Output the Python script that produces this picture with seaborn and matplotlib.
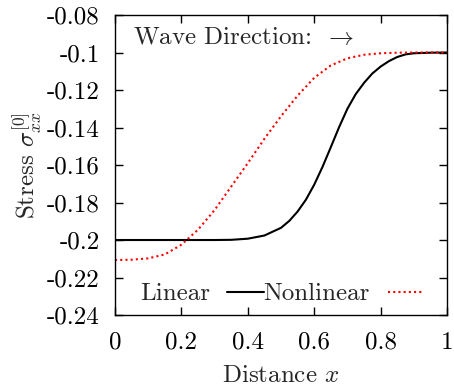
import numpy as np
import pandas as pd
import matplotlib
matplotlib.use("Agg")
import matplotlib.pyplot as plt
import seaborn as sns

# Data
lin_x = [0, 0.1, 0.2, 0.3, 0.35, 0.4, 0.45, 0.5, 0.525, 0.55, 0.575, 0.6, 0.625, 0.65, 0.675, 0.7,
         0.725, 0.75, 0.775, 0.8, 0.825, 0.85, 0.875, 0.9, 0.95, 1.0]
lin_y = [-0.2, -0.2, -0.2, -0.2, -0.1999, -0.1993, -0.1976, -0.1935, -0.1898, -0.1848, -0.1785,
         -0.1705, -0.1610, -0.1505, -0.1398, -0.1300, -0.1222, -0.1162, -0.1112, -0.1075, -0.1046,
         -0.1024, -0.1010, -0.1004, -0.1001, -0.1]
non_x = [0, 0.05, 0.1, 0.15, 0.2, 0.25, 0.3, 0.35, 0.4, 0.45, 0.5, 0.55, 0.6, 0.65, 0.7, 0.75, 0.8,
         0.85, 0.9, 0.95, 1.0]
non_y = [-0.2107, -0.2105, -0.2098, -0.2077, -0.2025, -0.1945, -0.1840, -0.1715, -0.1590, -0.1460,
         -0.1340, -0.1230, -0.1135, -0.1069, -0.1031, -0.1012, -0.1004, -0.1001, -0.1, -0.1, -0.1]
series_names = ["Linear", "Nonlinear"]
x_ticks = [0, 0.2, 0.4, 0.6, 0.8, 1]
x_ticklabels = ["0", "0.2", "0.4", "0.6", "0.8", "1"]
y_ticks = [-0.24, -0.22, -0.2, -0.18, -0.16, -0.14, -0.12, -0.1, -0.08]
y_ticklabels = ["-0.24", "-0.22", "-0.2", "-0.18", "-0.16", "-0.14", "-0.12", "-0.1", "-0.08"]

df = pd.concat([
    pd.DataFrame({"x": lin_x, "y": lin_y, "series": series_names[0]}),
    pd.DataFrame({"x": non_x, "y": non_y, "series": series_names[1]}),
])

sns.set_style("ticks")
plt.rcParams["font.family"] = ["cmr10", "DejaVu Serif"]
plt.rcParams["mathtext.fontset"] = "cm"
plt.rcParams["axes.unicode_minus"] = False

FS = 18
fig = plt.figure(figsize=(4.54, 3.89), dpi=100)
ax = fig.add_axes([0.2533, 0.1902, 0.7313, 0.7712])

sns.lineplot(data=df, x="x", y="y", hue="series", style="series",
             palette={"Linear": "black", "Nonlinear": "red"},
             dashes={"Linear": "", "Nonlinear": (1, 1.5)},
             linewidth=1.5, ax=ax, legend=True, estimator=None, sort=False)

ax.set_xlim(0, 1)
ax.set_ylim(-0.24, -0.08)
ax.set_xticks(x_ticks)
ax.set_xticklabels(x_ticklabels)
ax.set_yticks(y_ticks)
ax.set_yticklabels(y_ticklabels)
ax.tick_params(direction="in", length=6, width=1, top=True, right=True,
               labelsize=FS, colors="black")
ax.tick_params(axis="y", pad=11)
ax.tick_params(axis="x", pad=12)
for s in ax.spines.values():
    s.set_linewidth(1.0)
    s.set_color("black")

ax.set_xlabel("Distance $x$", fontsize=FS, labelpad=8)
ax.set_ylabel(r"Stress $\sigma_{xx}^{[0]}$", fontsize=FS, labelpad=2)

ax.text(0.054, 0.923, r"Wave Direction: $\,\rightarrow$", transform=ax.transAxes,
        fontsize=FS, va="center", ha="left")

handles, labels = ax.get_legend_handles_labels()
ax.legend(handles, labels, loc="center left", bbox_to_anchor=(0.075, 0.07), ncol=2,
          frameon=False, markerfirst=False, fontsize=FS, handlelength=1.45,
          handletextpad=0.7, columnspacing=0.0, borderpad=0, borderaxespad=0)

fig.savefig("out.png", dpi=100)
